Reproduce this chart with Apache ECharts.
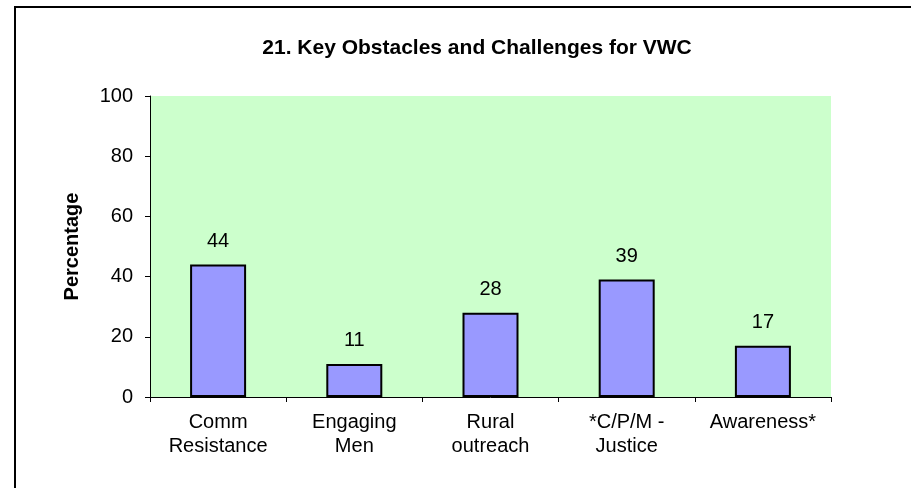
<!DOCTYPE html>
<html>
<head>
<meta charset="utf-8">
<script src="https://cdn.jsdelivr.net/npm/echarts@6/dist/echarts.min.js"></script>
<style>
  html, body { margin: 0; padding: 0; background: #fff; }
  #chart { width: 911px; height: 488px; }
</style>
</head>
<body>
<div id="chart"></div>
<script>
var categories = ['Comm\nResistance', 'Engaging\nMen', 'Rural\noutreach', '*C/P/M -\nJustice', 'Awareness*'];
var values = [44, 11, 28, 39, 17];
var yTicks = { min: 0, max: 100, interval: 20 };

var dom = document.getElementById('chart');
var myChart = echarts.init(dom, null, { renderer: 'canvas' });

var font = '"Liberation Sans", Arial, sans-serif';

var option = {
  backgroundColor: '#ffffff',
  animation: false,
  title: {
    text: '21. Key Obstacles and Challenges for VWC',
    left: 472,
    textAlign: 'center',
    top: 33,
    textStyle: { fontFamily: font, fontSize: 21, fontWeight: 'bold', color: '#000' }
  },
  graphic: [
    {
      type: 'rect',
      shape: { x: 15, y: 7, width: 1000, height: 1000 },
      style: { fill: 'none', stroke: '#000', lineWidth: 2 },
      silent: true
    }
  ],
  grid: {
    left: 150,
    right: 80,
    top: 96,
    bottom: 91,
    show: true,
    backgroundColor: '#ccffcc',
    borderWidth: 0
  },
  xAxis: {
    type: 'category',
    data: categories,
    axisLine: { lineStyle: { color: '#000', width: 1 } },
    axisTick: { show: true, length: 5, lineStyle: { color: '#000' } },
    axisLabel: {
      interval: 0,
      color: '#000',
      fontFamily: font,
      fontSize: 20,
      lineHeight: 24,
      margin: 13
    }
  },
  yAxis: {
    type: 'value',
    min: yTicks.min,
    max: yTicks.max,
    interval: yTicks.interval,
    name: 'Percentage',
    nameLocation: 'middle',
    nameGap: 68,
    nameTextStyle: { fontFamily: font, fontSize: 20, fontWeight: 'bold', color: '#000' },
    axisLine: { show: true, lineStyle: { color: '#000', width: 1 } },
    axisTick: { show: true, length: 5, lineStyle: { color: '#000' } },
    splitLine: { show: false },
    axisLabel: { color: '#000', fontFamily: font, fontSize: 20, margin: 17 }
  },
  series: [
    {
      type: 'bar',
      data: values,
      barWidth: 56,
      itemStyle: { color: '#9999ff', borderColor: '#000', borderWidth: 2 },
      label: {
        show: true,
        position: 'top',
        distance: 13,
        color: '#000',
        fontFamily: font,
        fontSize: 20
      }
    }
  ]
};

myChart.setOption(option);
window.addEventListener('resize', myChart.resize);
</script>
</body>
</html>
